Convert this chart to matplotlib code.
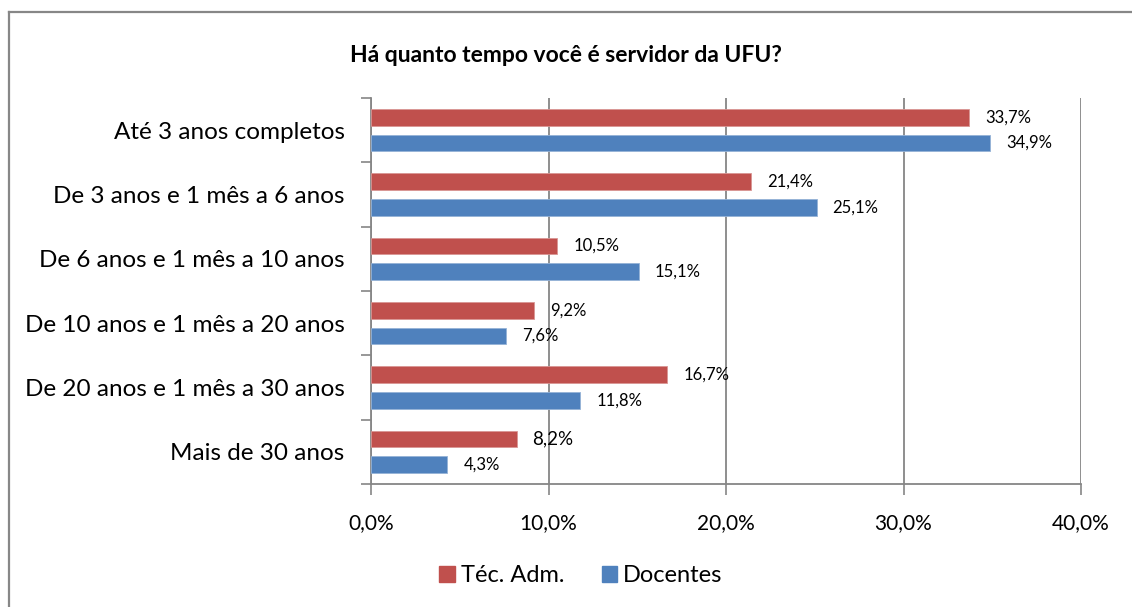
import matplotlib.pyplot as plt
import numpy as np
from matplotlib.patches import Patch
from matplotlib.lines import Line2D
from matplotlib.ticker import FuncFormatter, FixedLocator

plt.rcParams['font.family'] = ['Lato', 'DejaVu Sans']

# data
categories = ['Até 3 anos completos', 'De 3 anos e 1 mês a 6 anos',
              'De 6 anos e 1 mês a 10 anos', 'De 10 anos e 1 mês a 20 anos',
              'De 20 anos e 1 mês a 30 anos', 'Mais de 30 anos']
tec_adm = [33.7, 21.4, 10.5, 9.2, 16.7, 8.2]
docentes = [34.9, 25.1, 15.1, 7.6, 11.8, 4.3]
series_names = ['Téc. Adm.', 'Docentes']

red = '#C0504D'
blue = '#4F81BD'
grid_gray = '#868686'

W, H, DPI = 1132, 607, 100
fig = plt.figure(figsize=(W / DPI, H / DPI), dpi=DPI)
ax = fig.add_axes([371 / W, (H - 484) / H, (1081 - 371) / W, (484 - 98) / H])

y = np.arange(len(categories))
ax.barh(y - 0.2, tec_adm, height=0.26, color=red, edgecolor='#D99694', linewidth=0.6, zorder=3)
ax.barh(y + 0.2, docentes, height=0.26, color=blue, edgecolor='#95B3D7', linewidth=0.6, zorder=3)

# data labels
off = 16 * 72 / DPI
for i, v in enumerate(tec_adm):
    fs = 13.5 if i == 5 else 12
    ax.annotate(f'{v:.1f}%'.replace('.', ','), (v, y[i] - 0.2), xytext=(off, 0),
                textcoords='offset points', va='center', ha='left', fontsize=fs)
for i, v in enumerate(docentes):
    ax.annotate(f'{v:.1f}%'.replace('.', ','), (v, y[i] + 0.2), xytext=(off, 0),
                textcoords='offset points', va='center', ha='left', fontsize=12)

ax.set_xlim(0, 40)
ax.set_ylim(len(categories) - 0.5, -0.5)
ax.set_xticks([0, 10, 20, 30, 40])
ax.xaxis.set_major_formatter(FuncFormatter(lambda v, p: f'{v:.1f}%'.replace('.', ',')))
ax.tick_params(axis='x', direction='out', length=8, width=1.2, color=grid_gray,
               labelsize=15, pad=13)

# category ticks sit on the boundaries, labels in the middle
ax.yaxis.set_major_locator(FixedLocator(np.arange(len(categories) + 1) - 0.5))
ax.yaxis.set_major_formatter(FuncFormatter(lambda v, p: ''))
ax.yaxis.set_minor_locator(FixedLocator(y))
ax.set_yticklabels(categories, minor=True)
ax.tick_params(axis='y', which='major', direction='out', length=7, width=1.2, color=grid_gray)
ax.tick_params(axis='y', which='minor', length=0, labelsize=17.5, pad=19)

ax.grid(axis='x', color=grid_gray, linewidth=1.3, zorder=0)
ax.set_axisbelow(True)
for s in ['top', 'right']:
    ax.spines[s].set_visible(False)
for s in ['left', 'bottom']:
    ax.spines[s].set_color(grid_gray)
    ax.spines[s].set_linewidth(1.3)

fig.text(566 / W, 1 - 55 / H, 'Há quanto tempo você é servidor da UFU?',
         ha='center', va='center', fontsize=16.5, fontweight='bold')

handles = [Patch(color=red), Patch(color=blue)]
fig.legend(handles, series_names, loc='center', bbox_to_anchor=(581 / W, 1 - 576 / H),
           ncol=2, frameon=False, fontsize=17, handlelength=0.65, handleheight=0.65,
           handletextpad=0.25, columnspacing=1.6)

# outer chart frame (only top and left edges show)
fig.add_artist(Line2D([9 / W, 9 / W], [0, 1 - 12 / H], color='#878787', linewidth=1.6))
fig.add_artist(Line2D([9 / W, 1], [1 - 12 / H, 1 - 12 / H], color='#878787', linewidth=1.6))

fig.savefig('out.png', dpi=DPI)
